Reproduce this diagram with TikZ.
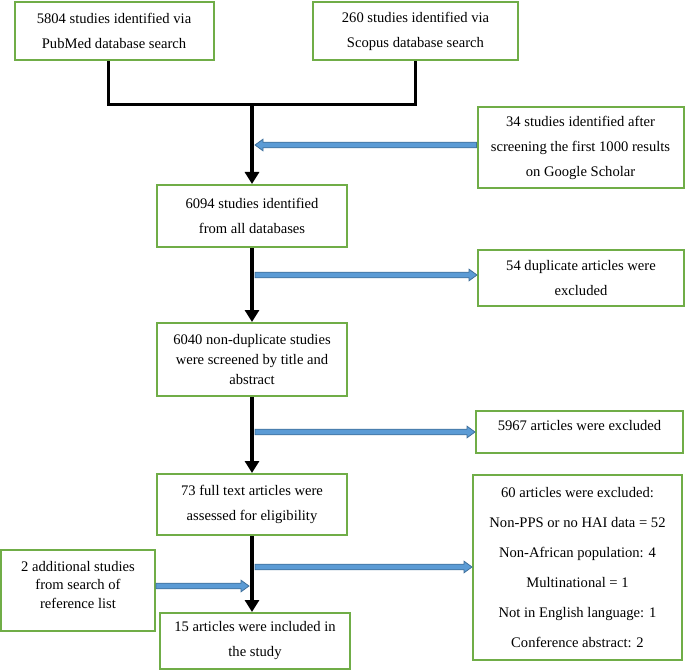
\documentclass[tikz,border=0pt]{standalone}
\usepackage{fontspec}
\setmainfont{Liberation Serif}
\usetikzlibrary{arrows.meta,calc}
\definecolor{boxgreen}{HTML}{70AD47}
\definecolor{arrfill}{HTML}{5B9BD5}
\definecolor{arrline}{HTML}{41719C}
\tikzset{
  box/.style={draw=boxgreen, line width=2pt, fill=white, align=center, inner sep=0pt,
    font=\fontsize{14.6}{25}\selectfont},
  hline/.style={line width=3pt, draw=black, line join=miter},
  blkarrow/.style={line width=4pt, draw=black, -{Triangle[width=14pt,length=12pt]}},
  blarrow/.style={fill=arrfill, draw=arrline, line width=0.8pt, line join=miter},
}
% #1 tail, #2 tip, #3 offset of head base from tip (negative: points right)
\newcommand\bluearrow[3]{%
  \filldraw[blarrow] ($(#1)+(0,-2.8)$) -- ($(#2)+(#3,-2.8)$) -- ($(#2)+(#3,-5.8)$) -- (#2)
    -- ($(#2)+(#3,5.8)$) -- ($(#2)+(#3,2.8)$) -- ($(#1)+(0,2.8)$) -- cycle;}
\begin{document}
\begin{tikzpicture}[x=1pt,y=-1pt]
\useasboundingbox (0,0) rectangle (685,671);
\fill[white] (0,0) rectangle (685,671);

\node[box, minimum width=199pt, minimum height=58pt] (pub) at (114,31)
  {5804 studies identified via\\PubMed database search};
\node[box, minimum width=205pt, minimum height=58pt] (sco) at (415.5,31)
  {260 studies identified via\\Scopus database search};
\node[box, minimum width=206pt, minimum height=81pt] (goo) at (580.5,147.5)
  {34 studies identified after\\screening the first 1000 results\\on Google Scholar};
\node[box, minimum width=190pt, minimum height=62pt] (n6094) at (252,216)
  {6094 studies identified\\from all databases};
\node[box, minimum width=206pt, minimum height=56pt] (dup) at (581,278)
  {54 duplicate articles were\\excluded};
\node[box, minimum width=190pt, minimum height=73pt, font=\fontsize{14.6}{20}\selectfont] (n6040) at (252,359.5)
  {6040 non-duplicate studies\\were screened by title and\\abstract};
\node[box, minimum width=207pt, minimum height=42pt, text depth=14pt] (n5967) at (579.5,432)
  {5967 articles were excluded};
\node[box, minimum width=190pt, minimum height=61pt] (n73) at (252,504.5)
  {73 full text articles were\\assessed for eligibility};
\node[box, minimum width=209pt, minimum height=185pt, font=\fontsize{14.6}{30}\selectfont] (excl) at (577.5,567.5)
  {60 articles were excluded:\\Non-PPS or no HAI data = 52\\Non-African population: 4\\Multinational = 1\\Not in English language: 1\\Conference abstract: 2};
\node[box, minimum width=154pt, minimum height=81pt, font=\fontsize{14.6}{18.5}\selectfont, text depth=12pt] (add) at (78,590.5)
  {2 additional studies\\from search of\\reference list};
\node[box, minimum width=190pt, minimum height=56pt] (n15) at (255,641)
  {15 articles were included in\\the study};

% black connectors
\coordinate (j) at (252,105);
\draw[hline] ([xshift=-6pt]pub.south) |- (j) -| (sco.south);
\draw[blkarrow] (j) -- (n6094.north);
\draw[blkarrow] (n6094.south) -- (n6040.north);
\draw[blkarrow] (n6040.south) -- (n73.north);
\draw[blkarrow] (n73.south) -- (n73.south |- n15.north);

% blue arrows
\coordinate (ga) at (255,145);
\bluearrow{goo.west |- ga}{ga}{8}
\coordinate (da) at (255,275);
\bluearrow{da}{dup.west |- da}{-8}
\coordinate (ea) at (255,432);
\bluearrow{ea}{n5967.west |- ea}{-8}
\coordinate (xa) at (255,567);
\bluearrow{xa}{excl.west |- xa}{-8}
\coordinate (aa) at (249,586);
\bluearrow{add.east |- aa}{aa}{-8}
\end{tikzpicture}
\end{document}
